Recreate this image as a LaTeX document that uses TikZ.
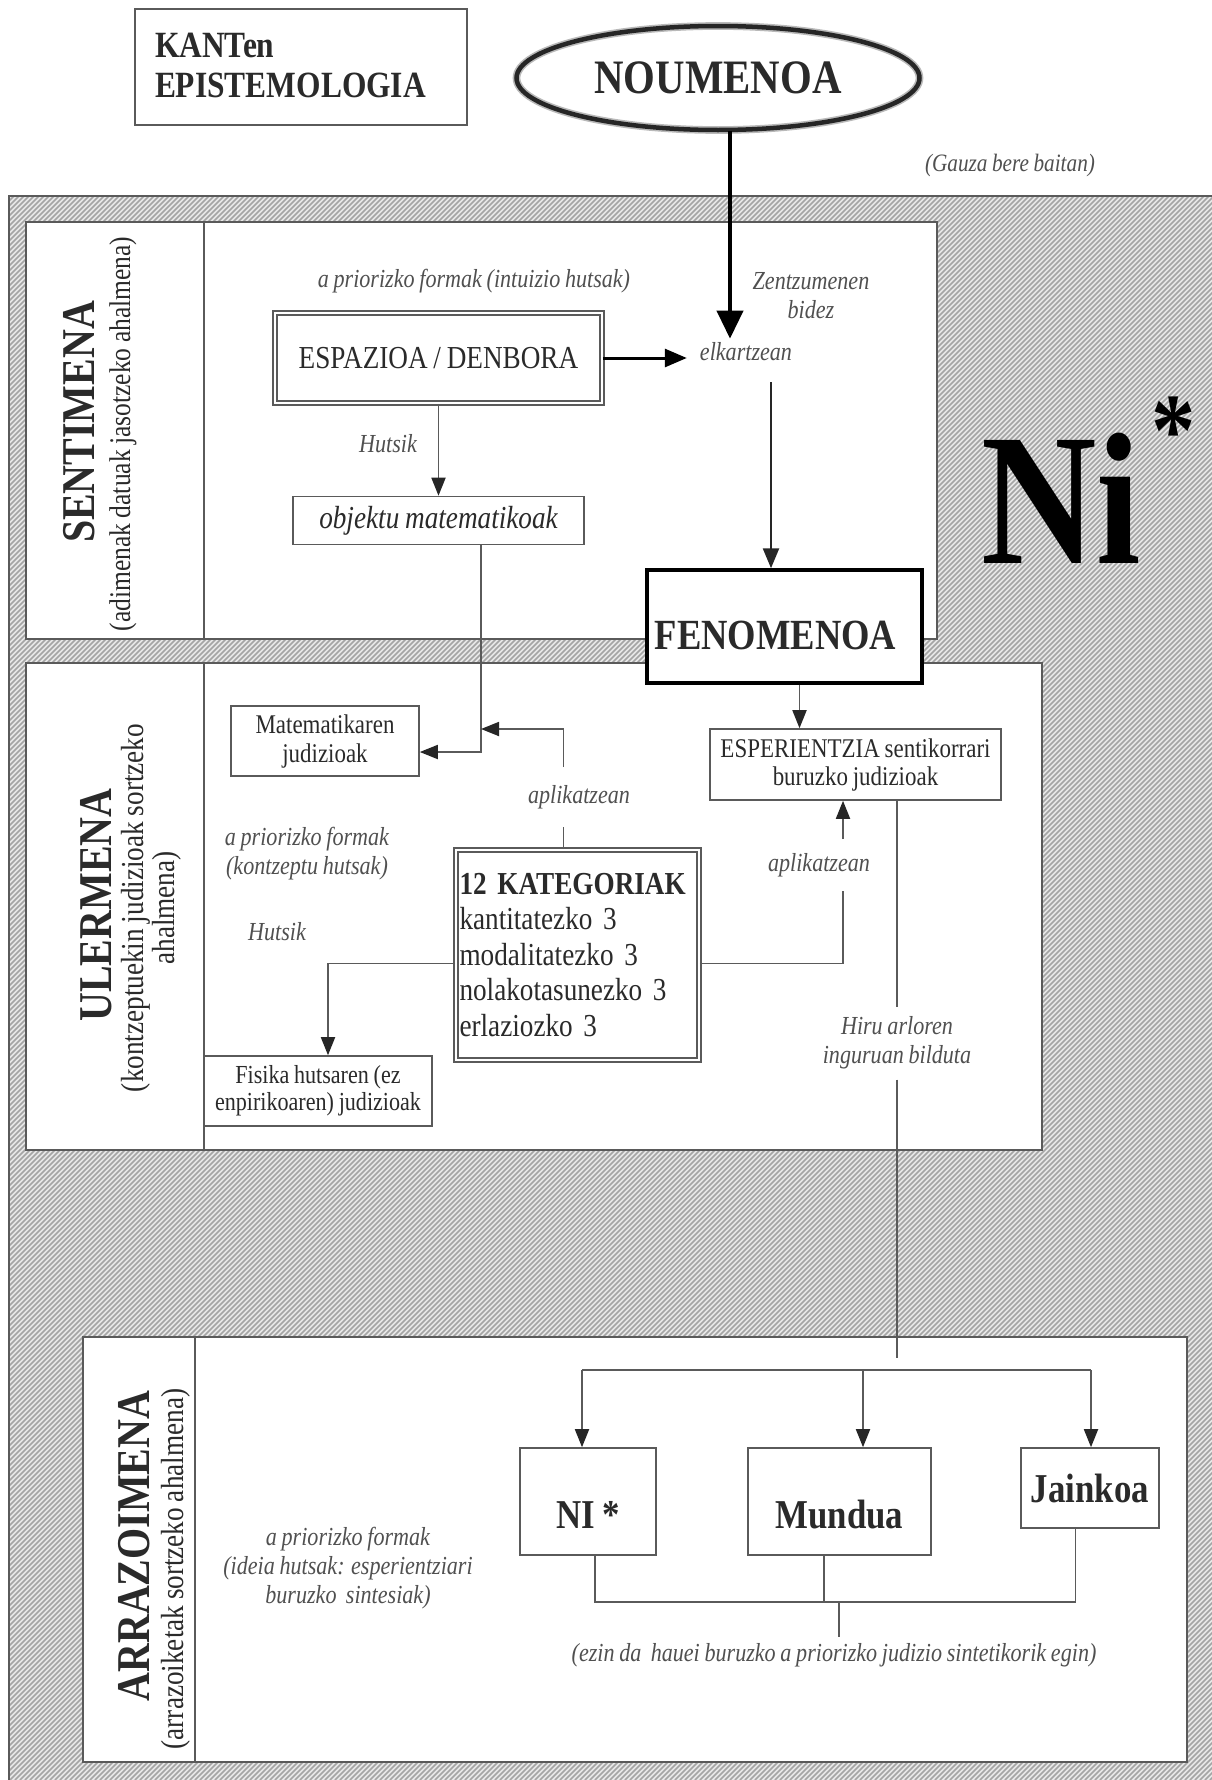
\documentclass[tikz,border=0pt]{standalone}
\usepackage{fontspec}
\setmainfont{Liberation Serif}[FakeStretch=0.85, WordSpace=0.85]
\usetikzlibrary{arrows.meta,shapes.geometric,calc}
\newcommand\fsz[2]{\fontsize{#1pt}{#2pt}\selectfont}
\newcommand\nudge[3]{\hspace*{#1}\smash{\raisebox{#2}{#3}}\vphantom{#3}}
\definecolor{txt}{HTML}{2A2A2A}
\definecolor{lbl}{HTML}{505050}
\definecolor{ln}{HTML}{5A5A5A}
\definecolor{hatchbg}{HTML}{E8E8E8}
\definecolor{hatchln}{HTML}{A4A4A4}
\tikzset{
  box/.style={draw=ln, line width=1.6pt, fill=white, text=txt, inner sep=0pt, align=center},
  dbox/.style={draw=ln, line width=1.8pt, double=white, double distance=2pt, fill=white, text=txt, inner sep=0pt},
  panel/.style={draw=ln, line width=1.6pt, fill=white, inner sep=0pt, anchor=north west},
  lab/.style={text=lbl, font={\fsz{26}{29}\itshape}, align=center, inner sep=0pt},
  con/.style={draw=ln, line width=1.8pt},
  arr/.style={con, -{Triangle[length=18pt,width=14pt,color=black!85]}},
  vtitle/.style={rotate=90, font={\fsz{47}{50}\bfseries}, text=txt, inner sep=0pt},
  vsub/.style={rotate=90, text=txt, inner sep=0pt, align=center}
}
\begin{document}
\begin{tikzpicture}[x=1pt,y=-1pt]
\useasboundingbox (0,0) rectangle (1212,1780);
\fill[white] (0,0) rectangle (1212,1780);
% hatched background
\begin{scope}
\clip (9,196) rectangle (1212,1780);
\fill[hatchbg] (9,196) rectangle (1212,1780);
\foreach \i in {0,5,...,2790} \draw[hatchln, line width=1.5pt] (9+\i-1584,1780) -- (9+\i,196);
\end{scope}
\draw[ln, line width=1.6pt] (1212,196) -- (9,196) -- (9,1780);

% title and noumenon
\node[box, line width=2pt, minimum width=332, minimum height=116, text width=292, align=left,
      font={\fsz{37}{40}\bfseries}, anchor=north west] (kant) at (134,8) {\raisebox{4pt}{KANTen}\\\raisebox{4pt}{EPISTEMOLOGIA}};
\node[ellipse, draw=gray!55, line width=1.6pt, double=black!85, double distance=4.5pt, fill=white,
      minimum width=403, minimum height=104, font={\fsz{48}{50}\bfseries}, text=txt, inner sep=0pt] (nou) at (718,78) {NOUMENOA};
\node[lab, font={\fsz{25}{27}\itshape}] (gauza) at (1010,165) {(Gauza bere baitan)};

% panels
\node[panel, minimum width=911, minimum height=417] (psent) at (25,221) {};
\draw[ln, line width=1.6pt] ([xshift=179pt]psent.north west) -- ([xshift=179pt]psent.south west);
\node[panel, minimum width=1016, minimum height=487] (puler) at (25,662) {};
\draw[ln, line width=1.6pt] ([xshift=179pt]puler.north west) -- ([xshift=179pt]puler.south west);
\node[panel, minimum width=1104, minimum height=425] (parr) at (82,1336) {};
\draw[ln, line width=1.6pt] ([xshift=113pt]parr.north west) -- ([xshift=113pt]parr.south west);

% vertical titles
\node[vtitle] (tsent) at (79,422) {SENTIMENA};
\node[vsub, font={\fsz{30}{31}}] (ssent) at (123,434) {(adimenak datuak jasotzeko ahalmena)};
\node[vtitle] (tuler) at (96,905) {ULERMENA};
\node[vsub, font={\fsz{32}{31}}] (suler) at (151,908) {(kontzeptuekin judizioak sortzeko\\ahalmena)};
\node[vtitle] (tarr) at (134,1546) {ARRAZOIMENA};
\node[vsub, font={\fsz{32}{31}}] (sarr) at (176,1569) {(arrazoiketak sortzeko ahalmena)};

% big Ni*
\node[anchor=base west, inner sep=0pt, font={\fsz{188}{188}\bfseries}, text=black] (bigni) at (981,563)
  {Ni\hspace{10pt}\raisebox{98pt}{\fsz{104}{104}*}};

% SENTIMENA content
\node[lab] (lab1) at (474,281) {a priorizko formak (intuizio hutsak)};
\node[lab] (zent) at (811,296) {Zentzumenen\\bidez};
\node[lab, inner xsep=13pt, inner ysep=4pt] (elk) at (746,352) {elkartzean};
\node[dbox, minimum width=327, minimum height=90, font={\fsz{32}{34}}] (esp) at (438.5,358) {ESPAZIOA / DENBORA};
\node[lab] (hut1) at (388,444) {Hutsik};
\node[box, minimum width=291, minimum height=48, font={\fsz{32}{34}\itshape}] (obj) at (438.5,520.5) {objektu matematikoak};

% ULERMENA content
\node[box, minimum width=188, minimum height=70, font={\fsz{27}{29}}] (mat) at (325,741) {Matematikaren\\judizioak};
\node[box, minimum width=291, minimum height=71, font={\fsz{27}{28}}] (esper) at (855.5,764.5) {ESPERIENTZIA sentikorrari\\buruzko judizioak};
\node[lab] (apr2) at (307,854) {a priorizko formak\\(kontzeptu hutsak)};
\node[lab] (hut2) at (277,932) {Hutsik};
\node[lab, inner ysep=18pt] (apl1) at (579,797) {aplikatzean};
\node[lab, inner ysep=14pt] (apl2) at (819,865) {aplikatzean};
\node[dbox, minimum width=243, minimum height=210, text width=236, align=left, font={\fsz{32}{35.5}}] (kat) at (577.5,955)
  {\textbf{12 KATEGORIAK}\\kantitatezko 3\\modalitatezko 3\\nolakotasunezko 3\\erlaziozko 3};
\node[box, minimum width=228, minimum height=70, font={\fsz{26}{27}}] (fis) at (318,1091) {Fisika hutsaren (ez\\enpirikoaren) judizioak};
\node[lab, inner ysep=10pt] (hiru) at (897,1043) {Hiru arloren\\inguruan bilduta};

% FENOMENOA (on top of panels)
\node[box, draw=black, line width=3.5pt, minimum width=275, minimum height=113, font={\fsz{43}{45}\bfseries}] (fen) at (784.5,626.5)
  {\nudge{-18pt}{-9pt}{FENOMENOA}};

% ARRAZOIMENA content
\node[lab] (apr3) at (348,1568) {a priorizko formak\\(ideia hutsak: esperientziari\\buruzko~ sintesiak)};
\node[box, minimum width=136, minimum height=107, font={\fsz{41}{43}\bfseries}] (ni) at (588,1501.5) {\nudge{0pt}{-13pt}{NI *}};
\node[box, minimum width=183, minimum height=107, font={\fsz{41}{43}\bfseries}] (mun) at (839.5,1501.5) {\nudge{0pt}{-13pt}{Mundua}};
\node[box, minimum width=138, minimum height=80, font={\fsz{41}{43}\bfseries}] (jai) at (1090,1488) {Jainkoa};
\node[lab, inner ysep=6pt] (ezin) at (834,1655) {(ezin da~ hauei buruzko a priorizko judizio sintetikorik egin)};

% connectors
\draw[con, draw=black, line width=4pt, -{Triangle[length=28pt,width=26pt]}] ([xshift=12pt]nou.south) -- ([xshift=-16pt]elk.north);
\draw[con, draw=black, line width=3pt, -{Triangle[length=22pt,width=18pt]}] (esp.east) -- (esp.east -| elk.west);
\draw[con, draw=black!85, line width=2.5pt, -{Triangle[length=20pt,width=16pt]}, shorten <=17pt]
  ([xshift=25pt]elk.south) -- ([xshift=25pt]elk.south |- fen.north);
\draw[arr] (esp.south) -- (obj.north);
\draw[arr] ([xshift=42.5pt]obj.south) |- ([yshift=-11pt]mat.east);
\coordinate (j1) at (481,729);
\draw[con] ([xshift=-14pt]kat.north) -- ([xshift=-14pt]kat.north |- apl1.south);
\draw[arr] ([xshift=-14pt]kat.north |- apl1.north) |- (j1);
\draw[arr] ([yshift=-8.5pt]kat.west) -| ([xshift=10pt]fis.north);
\draw[con] ([yshift=-8.5pt]kat.east) -| ([xshift=-12.5pt]esper.south |- apl2.south);
\draw[arr] ([xshift=-12.5pt]esper.south |- apl2.north) -- ([xshift=-12.5pt]esper.south);
\draw[arr] ([xshift=15pt]fen.south) -- ([xshift=15pt]fen.south |- esper.north);
\draw[con] ([xshift=41.5pt]esper.south) -- ([xshift=41.5pt]esper.south |- hiru.north);
\coordinate (busend) at (897,1358);
\draw[con] ([xshift=41.5pt]esper.south |- hiru.south) -- (busend);
\coordinate (hl) at (582,1370);
\coordinate (hr) at (1091,1370);
\draw[con] (hl) -- (hr);
\draw[arr] (hl) -- (hl |- ni.north);
\draw[arr] ([xshift=23.5pt]mun.north |- hl) -- ([xshift=23.5pt]mun.north);
\draw[arr] (hr) -- (hr |- jai.north);
\draw[con] ([xshift=7pt]ni.south) -- ++(0,46) -| ([xshift=-14.5pt]jai.south);
\draw[con] ([xshift=-15.5pt]mun.south) -- ++(0,46);
\coordinate (bm) at (839,1601);
\draw[con] (bm) -- ([xshift=5pt]ezin.north);
\end{tikzpicture}
\end{document}
